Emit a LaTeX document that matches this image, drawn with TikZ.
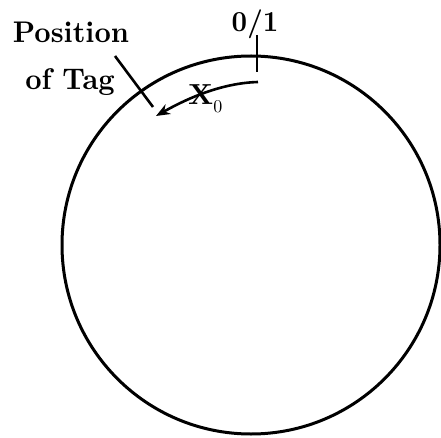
\documentclass[tikz,border=0pt]{standalone}
\usepackage{fontspec}
\setmainfont{lmroman10-regular}[Extension=.otf, BoldFont=lmroman10-bold]
\usetikzlibrary{arrows.meta}
\begin{document}
\begin{tikzpicture}[x=1pt,y=-1pt,
  lbl/.style={font=\fontsize{29}{35}\selectfont\bfseries, inner sep=0pt, anchor=base},
  stroke/.style={line width=3pt, black}]
\useasboundingbox (0,0) rectangle (441,438);
\coordinate (c) at (251,245);
\draw[stroke] (c) circle[radius=189];
% 0/1 marker
\coordinate (t1) at (257,35);
\coordinate (t2) at (257,72);
\draw[line width=2.6pt] (t1) -- (t2);
\node[lbl] (zo) at (255,32) {\scalebox{0.93}[1]{0/1}};
% tag marker
\coordinate (g1) at (115,56);
\coordinate (g2) at (153,107);
\draw[line width=2.6pt] (g1) -- (g2);
\node[lbl] (pos) at (71,43) {\scalebox{0.98}[1.03]{Position}};
\node[lbl] (tag) at (70,90) {\scalebox{0.98}[1.03]{of Tag}};
% arrow x0
\coordinate (a1) at (258,82);
\coordinate (a2) at (156,116);
\draw[line width=2.6pt, -{Stealth[length=14pt,width=11pt]}] (a1) .. controls (222,83) and (188,98) .. (a2);
\node[font=\fontsize{29}{32}\selectfont\bfseries, inner sep=0pt, anchor=base west] (x0) at (188,105) {X\raisebox{-8pt}{\fontsize{18}{18}\selectfont\mdseries 0}};
\end{tikzpicture}
\end{document}
